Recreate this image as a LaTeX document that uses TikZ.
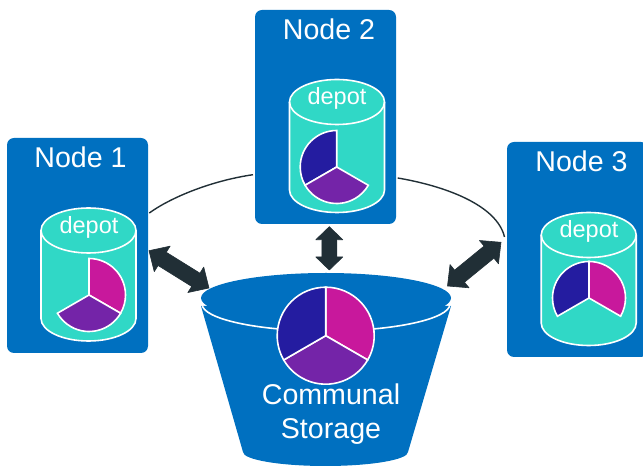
\documentclass[tikz,border=0pt]{standalone}
\usepackage{fontspec}
\setmainfont{Liberation Sans}
\usetikzlibrary{calc}
\definecolor{boxblue}{HTML}{0070C0}
\definecolor{depotteal}{HTML}{30D8C6}
\definecolor{slicemagenta}{HTML}{C8189C}
\definecolor{slicepurple}{HTML}{7424A8}
\definecolor{sliceblue}{HTML}{241CA0}
\definecolor{arrowdark}{HTML}{212F36}
\tikzset{
  x=1pt,y=1pt,
  hostbox/.style={fill=boxblue,rounded corners=7pt,minimum width=141pt,inner sep=0pt},
  titletext/.style={text=white,anchor=base,inner sep=0pt,font=\fontsize{28.6}{30}\selectfont},
  depottext/.style={text=white,anchor=base,inner sep=0pt,font=\fontsize{23.5}{26}\selectfont},
  whiteline/.style={draw=white,line width=1.6pt},
  linkarc/.style={draw=arrowdark,line width=1.4pt},
  bigarrow/.style={fill=arrowdark,draw=arrowdark,line width=0.6pt,line join=round},
  depotcan/.pic={
    \path[whiteline,fill=depotteal] (-47.5,44) -- (-47.5,-44) arc (180:360:47.5 and 22.5) -- (47.5,44) arc (0:180:47.5 and 22.5) -- cycle;
    \path[whiteline] (-47.5,44) arc (180:360:47.5 and 22.5);
  }
}
\newcommand{\pieslice}[5]{\path[whiteline,fill=#5] (#1) -- ++(#2:#4) arc (#2:#3:#4) -- cycle;}
% double arrow from #1 to #2: #3,#4 = distance and angle of the head corner, #5,#6 = of the shaft corner
\newcommand{\twoway}[6]{\path[bigarrow] (#1) -- ($(#1)!#3!#4:(#2)$) -- ($(#1)!#5!#6:(#2)$) -- ($(#2)!#5!-#6:(#1)$) -- ($(#2)!#3!-#4:(#1)$) -- (#2) -- ($(#2)!#3!#4:(#1)$) -- ($(#2)!#5!#6:(#1)$) -- ($(#1)!#5!-#6:(#2)$) -- ($(#1)!#3!-#4:(#2)$) -- cycle;}
\begin{document}
\begin{tikzpicture}
\useasboundingbox (0,0) rectangle (643,466);
% link arcs
\coordinate (l1) at (149.3,253);
\coordinate (l2) at (253,291.3);
\coordinate (r2) at (397.7,288);
\coordinate (r3) at (504.5,229);
\draw[linkarc] (l1) .. controls (170,268) and (210,285) .. (l2);
\draw[linkarc] (r2) .. controls (445,280) and (497,261) .. (r3);
% host boxes
\node[hostbox,minimum height=215pt] (node1) at (77.5,220.5) {};
\node[hostbox,minimum height=214pt] (node2) at (325.5,349) {};
\node[hostbox,minimum height=215pt] (node3) at (577.5,216.5) {};
\node[titletext] (title1) at (80.5,298.3) {Node 1};
\node[titletext] (title2) at (329,426) {Node 2};
\node[titletext] (title3) at (581.5,294.3) {Node 3};
% depots
\pic at (88.5,191.5) {depotcan};
\pic at (337,320) {depotcan};
\pic at (588.7,187) {depotcan};
\node[depottext] (depot1) at (89,232.7) {depot};
\node[depottext] (depot2) at (337,361) {depot};
\node[depottext] (depot3) at (589,228.7) {depot};
\coordinate (p1) at (89,171);
\coordinate (p2) at (336.7,299);
\coordinate (p3) at (589,168);
\pieslice{p1}{90}{-30}{36.5}{slicemagenta}
\pieslice{p1}{-30}{-150}{36.5}{slicepurple}
\pieslice{p2}{90}{210}{36.5}{sliceblue}
\pieslice{p2}{210}{330}{36.5}{slicepurple}
\pieslice{p3}{90}{210}{36.5}{sliceblue}
\pieslice{p3}{90}{-30}{36.5}{slicemagenta}
% communal storage
\fill[boxblue] (201,160) -- (243,14) arc (180:360:82.5 and 14) -- (451,160) -- cycle;
\draw[whiteline] (202,162) arc (180:360:124 and 27);
\fill[boxblue] (326,168) ellipse (125 and 25);
\coordinate (p4) at (325.7,130.3);
\pieslice{p4}{90}{-30}{48.5}{slicemagenta}
\pieslice{p4}{-30}{-150}{48.5}{slicepurple}
\pieslice{p4}{90}{210}{48.5}{sliceblue}
\node[titletext] (comm) at (331,61) {Communal};
\node[titletext] (stor) at (331,27.7) {Storage};
% arrows
\coordinate (a1s) at (149,215.3);
\coordinate (a1e) at (209,178);
\coordinate (a2s) at (329.3,239.3);
\coordinate (a2e) at (329.3,196);
\coordinate (a3s) at (501,223.7);
\coordinate (a3e) at (447.5,180);
\twoway{a1s}{a1e}{21.6pt}{44}{17.35pt}{26.7}
\twoway{a2s}{a2e}{18.8pt}{46}{15pt}{30}
\twoway{a3s}{a3e}{21.6pt}{44}{17.35pt}{26.7}
\end{tikzpicture}
\end{document}
